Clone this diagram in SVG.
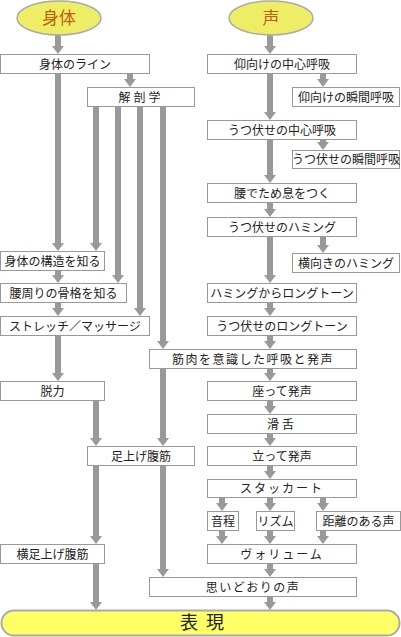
<svg xmlns="http://www.w3.org/2000/svg" width="401" height="637" viewBox="0 0 401 637">
<style>
.b{fill:#fff;stroke:#999;stroke-width:1}
.t{font-family:"Noto Sans CJK JP","Noto Sans",sans-serif;font-size:12px;fill:#222;text-anchor:middle}
.e{fill:#eeee66;stroke:#aaa;stroke-width:1.5}
.et{font-family:"Noto Sans CJK JP","Noto Sans",sans-serif;font-size:17px;fill:#c06010;text-anchor:middle}
.a{stroke:#999;stroke-width:6;fill:none;marker-end:url(#h)}
</style>
<defs>
<marker id="h" markerUnits="userSpaceOnUse" markerWidth="8" markerHeight="12" refX="0" refY="6" orient="auto" viewBox="0 0 8 12">
<path d="M0,0 L8,6 L0,12 z" fill="#999"/>
</marker>
</defs>
<g id="connectors">
<line class="a" x1="58" y1="35" x2="58" y2="46"/>
<line class="a" x1="58" y1="73" x2="58" y2="243"/>
<line class="a" x1="130" y1="73" x2="130" y2="79"/>
<line class="a" x1="96" y1="106" x2="96" y2="243"/>
<line class="a" x1="118" y1="106" x2="118" y2="275"/>
<line class="a" x1="140" y1="106" x2="140" y2="308"/>
<line class="a" x1="163" y1="106" x2="163" y2="341"/>
<line class="a" x1="58" y1="270" x2="58" y2="275"/>
<line class="a" x1="58" y1="302" x2="58" y2="308"/>
<line class="a" x1="58" y1="335" x2="58" y2="373"/>
<line class="a" x1="96" y1="400" x2="96" y2="438"/>
<line class="a" x1="163" y1="368" x2="163" y2="438"/>
<line class="a" x1="96" y1="465" x2="96" y2="536"/>
<line class="a" x1="163" y1="465" x2="163" y2="569"/>
<line class="a" x1="96" y1="563" x2="96" y2="602"/>
<line class="a" x1="270" y1="35" x2="270" y2="46"/>
<line class="a" x1="270" y1="73" x2="270" y2="112"/>
<line class="a" x1="270" y1="139" x2="270" y2="175"/>
<line class="a" x1="270" y1="202" x2="270" y2="209"/>
<line class="a" x1="270" y1="236" x2="270" y2="275"/>
<line class="a" x1="270" y1="302" x2="270" y2="308"/>
<line class="a" x1="270" y1="335" x2="270" y2="341"/>
<line class="a" x1="270" y1="368" x2="270" y2="373"/>
<line class="a" x1="270" y1="400" x2="270" y2="406"/>
<line class="a" x1="270" y1="433" x2="270" y2="438"/>
<line class="a" x1="270" y1="465" x2="270" y2="471"/>
<line class="a" x1="222" y1="497" x2="222" y2="503"/>
<line class="a" x1="270" y1="497" x2="270" y2="503"/>
<line class="a" x1="323" y1="497" x2="323" y2="503"/>
<line class="a" x1="222" y1="530" x2="222" y2="536"/>
<line class="a" x1="270" y1="530" x2="270" y2="536"/>
<line class="a" x1="323" y1="530" x2="323" y2="536"/>
<line class="a" x1="270" y1="563" x2="270" y2="569"/>
<line class="a" x1="270" y1="596" x2="270" y2="602"/>
<line class="a" x1="323" y1="73" x2="323" y2="79"/>
<line class="a" x1="323" y1="139" x2="323" y2="142"/>
<line class="a" x1="323" y1="236" x2="323" y2="245"/>
</g>
<g id="body"><ellipse class="e" cx="59" cy="18" rx="42" ry="17"/><text class="et" x="59" y="24">身体</text></g>
<g id="voice"><ellipse class="e" cx="271" cy="18" rx="42" ry="17"/><text class="et" x="271" y="24">声</text></g>
<g id="n1"><rect class="b" x="0.5" y="54.5" width="149" height="19"/><text class="t" x="75" y="68.5">身体のライン</text></g>
<g id="n2"><rect class="b" x="87.5" y="87.5" width="107" height="19"/><text class="t" x="141" y="101.5" style="letter-spacing:3px">解剖学</text></g>
<g id="n3"><rect class="b" x="0.5" y="251.5" width="104" height="19"/><text class="t" x="52.5" y="265.5">身体の構造を知る</text></g>
<g id="n4"><rect class="b" x="0.5" y="283.5" width="126" height="19"/><text class="t" x="63.5" y="297.5">腰周りの骨格を知る</text></g>
<g id="n5"><rect class="b" x="0.5" y="316.5" width="149" height="19"/><text class="t" x="75" y="330.5">ストレッチ／マッサージ</text></g>
<g id="n6"><rect class="b" x="0.5" y="381.5" width="104" height="19"/><text class="t" x="52.5" y="395.5">脱力</text></g>
<g id="n7"><rect class="b" x="87.5" y="446.5" width="107" height="19"/><text class="t" x="141" y="460.5">足上げ腹筋</text></g>
<g id="n8"><rect class="b" x="0.5" y="544.5" width="104" height="19"/><text class="t" x="52.5" y="558.5">横足上げ腹筋</text></g>
<g id="n9"><rect class="b" x="149.5" y="349.5" width="207" height="19"/><text class="t" x="253" y="363.5" style="letter-spacing:1.5px">筋肉を意識した呼吸と発声</text></g>
<g id="n10"><rect class="b" x="149.5" y="577.5" width="207" height="19"/><text class="t" x="253" y="591.5" style="letter-spacing:1.5px">思いどおりの声</text></g>
<g id="r1"><rect class="b" x="207.5" y="54.5" width="149" height="19"/><text class="t" x="282" y="68.5">仰向けの中心呼吸</text></g>
<g id="r2"><rect class="b" x="292.5" y="87.5" width="107" height="19"/><text class="t" x="346" y="101.5">仰向けの瞬間呼吸</text></g>
<g id="r3"><rect class="b" x="207.5" y="120.5" width="149" height="19"/><text class="t" x="282" y="134.5">うつ伏せの中心呼吸</text></g>
<g id="r4"><rect class="b" x="292.5" y="150.5" width="107" height="18"/><text class="t" x="346" y="164">うつ伏せの瞬間呼吸</text></g>
<g id="r5"><rect class="b" x="207.5" y="183.5" width="149" height="19"/><text class="t" x="282" y="197.5">腰でため息をつく</text></g>
<g id="r6"><rect class="b" x="207.5" y="217.5" width="149" height="19"/><text class="t" x="282" y="231.5">うつ伏せのハミング</text></g>
<g id="r7"><rect class="b" x="292.5" y="253.5" width="107" height="19"/><text class="t" x="346" y="267.5">横向きのハミング</text></g>
<g id="r8"><rect class="b" x="207.5" y="283.5" width="149" height="19"/><text class="t" x="282" y="297.5">ハミングからロングトーン</text></g>
<g id="r9"><rect class="b" x="207.5" y="316.5" width="149" height="19"/><text class="t" x="282" y="330.5">うつ伏せのロングトーン</text></g>
<g id="r10"><rect class="b" x="207.5" y="381.5" width="149" height="19"/><text class="t" x="282" y="395.5">座って発声</text></g>
<g id="r11"><rect class="b" x="207.5" y="414.5" width="149" height="19"/><text class="t" x="282" y="428.5" style="letter-spacing:3px">滑舌</text></g>
<g id="r12"><rect class="b" x="207.5" y="446.5" width="149" height="19"/><text class="t" x="282" y="460.5">立って発声</text></g>
<g id="r13"><rect class="b" x="207.5" y="479.5" width="149" height="18"/><text class="t" x="282" y="493" style="letter-spacing:2px">スタッカート</text></g>
<g id="r14"><rect class="b" x="207.5" y="511.5" width="31" height="19"/><text class="t" x="223" y="525.5">音程</text></g>
<g id="r15"><rect class="b" x="256.5" y="511.5" width="38" height="19"/><text class="t" x="275.5" y="525.5">リズム</text></g>
<g id="r16"><rect class="b" x="316.5" y="511.5" width="84" height="19"/><text class="t" x="358.5" y="525.5">距離のある声</text></g>
<g id="r17"><rect class="b" x="207.5" y="544.5" width="149" height="19"/><text class="t" x="282" y="558.5" style="letter-spacing:2px">ヴォリューム</text></g>
<g id="expr"><rect x="1.5" y="610.5" width="398" height="25" rx="12.5" fill="#ffff66" stroke="#aaa" stroke-width="2"/><text x="206" y="629" style="font-family:'Noto Sans CJK JP','Noto Sans',sans-serif;font-size:18px;fill:#222;text-anchor:middle;letter-spacing:8px">表現</text></g>
</svg>
